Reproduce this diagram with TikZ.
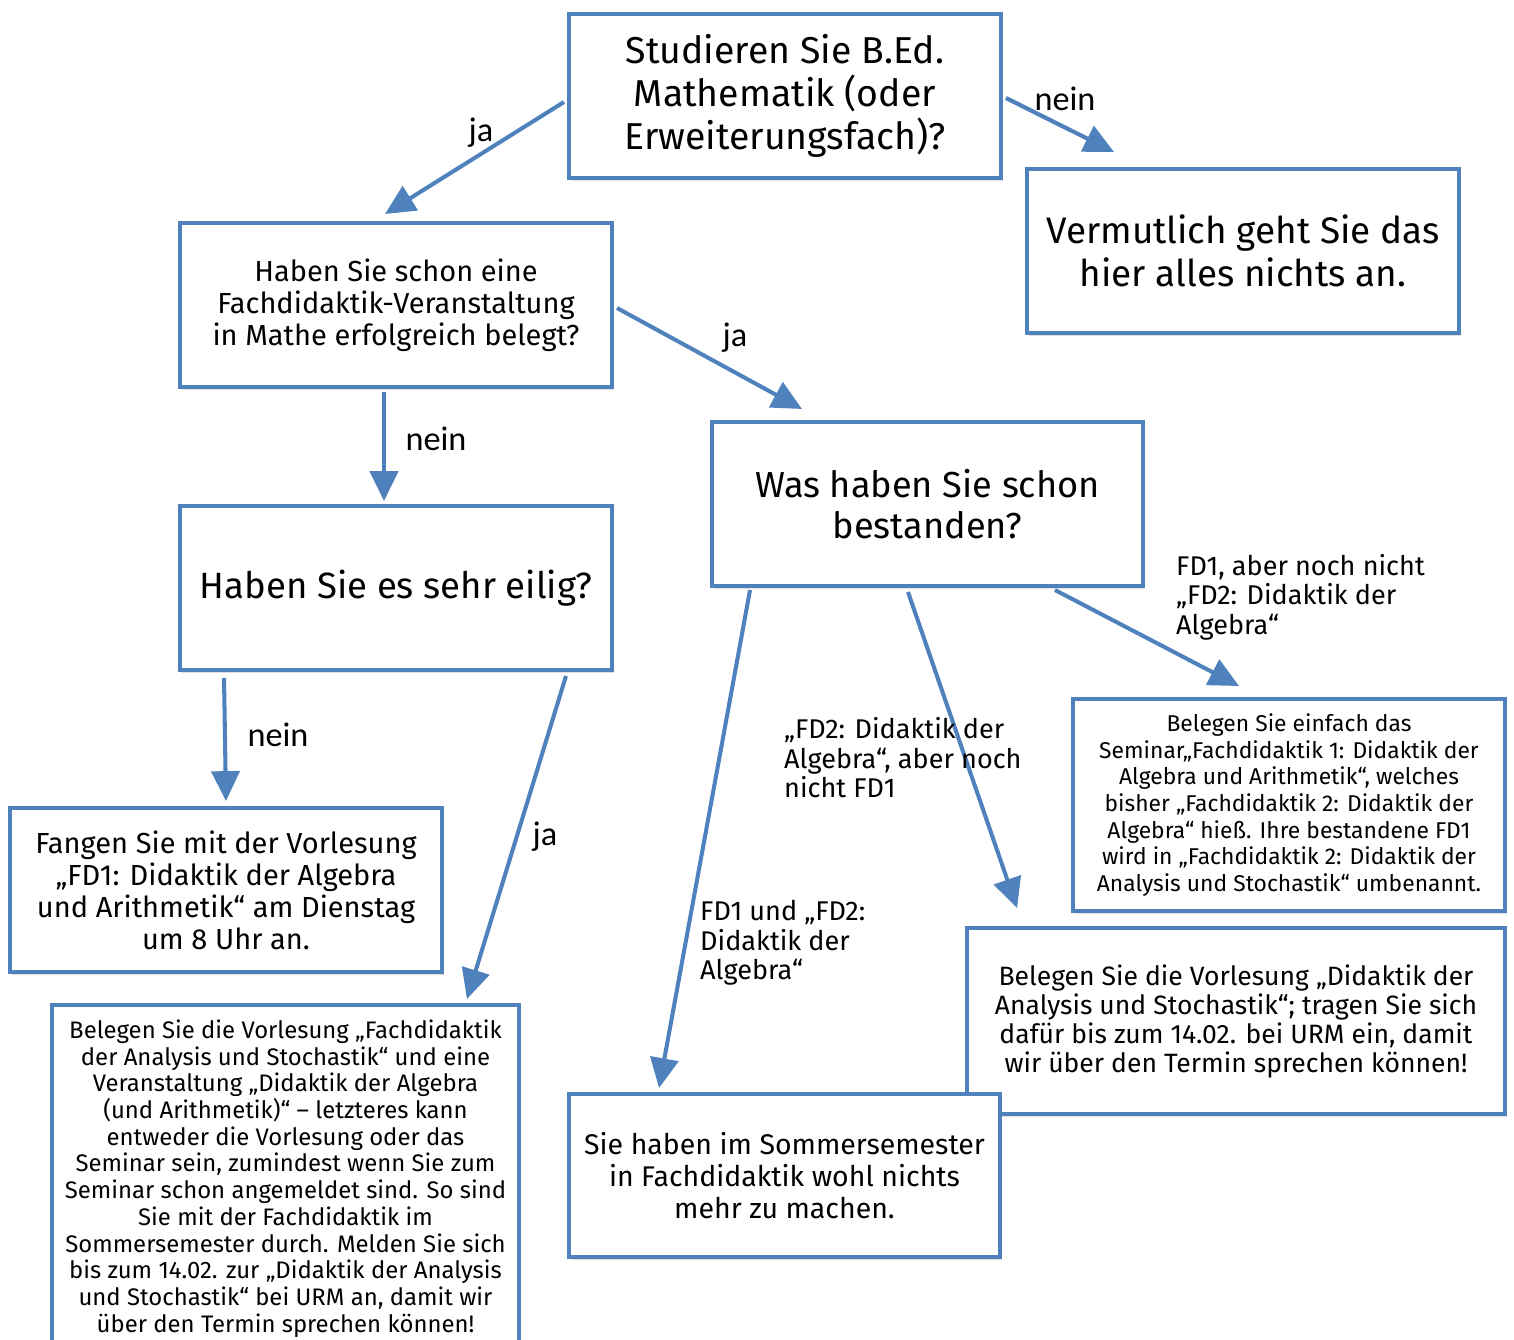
\documentclass[tikz,border=0pt]{standalone}
\usepackage{fontspec}
\setmainfont{Fira Sans}
\newfontfamily\answerfont{Carlito}
\usetikzlibrary{arrows.meta, calc, shadows}
\definecolor{boxblue}{HTML}{4F81BD}

\tikzset{
	box/.style n args={3}{
		draw=boxblue, line width=2.3pt, fill=white, align=center,
		inner sep=0pt, minimum width=#1, minimum height=#2,
		drop shadow={opacity=0.25, shadow xshift=1.2pt, shadow yshift=-1.5pt},
		font=#3
	},
	arr/.style={
		draw=boxblue, line width=2.3pt,
		-{Triangle[length=17pt, width=16pt]}
	},
	answer/.style={anchor=base, font=\answerfont\fontsize{19.5}{23}\selectfont},
	cond/.style={anchor=west, align=left, font=\fontsize{15.4}{16.8}\selectfont}
}

\begin{document}
\begin{tikzpicture}[yscale=-1, x=0.02cm, y=0.02cm]
\useasboundingbox ( 0, 0 ) rectangle ( 1514, 1339 );
\node[box={8.64cm}{3.28cm}{\fontsize{21.3}{24.5}\selectfont}] (b0) at ( 785, 96 ) {Studieren Sie B.Ed.\\ Mathematik (oder\\ Erweiterungsfach)?};
\node[box={8.64cm}{3.28cm}{\fontsize{21}{24.5}\selectfont}] (b1) at ( 1243, 251 ) {Vermutlich geht Sie das\\ hier alles nichts an.};
\node[box={8.64cm}{3.28cm}{\fontsize{16.5}{18.2}\selectfont}] (b2) at ( 396, 305 ) {Haben Sie schon eine\\ Fachdidaktik-Veranstaltung\\ in Mathe erfolgreich belegt?};
\node[box={8.64cm}{3.28cm}{\fontsize{20.8}{24.5}\selectfont}] (b3) at ( 396, 588 ) {Haben Sie es sehr eilig?};
\node[box={8.62cm}{3.28cm}{\fontsize{20.6}{23.5}\selectfont}] (b4) at ( 927.5, 504 ) {Was haben Sie schon\\ bestanden?};
\node[box={8.64cm}{3.28cm}{\fontsize{16.5}{18.2}\selectfont}] (b5) at ( 226, 890 ) {Fangen Sie mit der Vorlesung\\ „FD1: Didaktik der Algebra\\ und Arithmetik“ am Dienstag\\ um 8 Uhr an.};
\node[box={9.34cm}{6.94cm}{\fontsize{13.6}{15.2}\selectfont}] (b6) at ( 285.5, 1178.5 ) {Belegen Sie die Vorlesung „Fachdidaktik\\ der Analysis und Stochastik“ und eine\\ Veranstaltung „Didaktik der Algebra\\ (und Arithmetik)“ -- letzteres kann\\ entweder die Vorlesung oder das\\ Seminar sein, zumindest wenn Sie zum\\ Seminar schon angemeldet sind. So sind\\ Sie mit der Fachdidaktik im\\ Sommersemester durch. Melden Sie sich\\ bis zum 14.02. zur „Didaktik der Analysis\\ und Stochastik“ bei URM an, damit wir\\ über den Termin sprechen können!};
\node[box={8.64cm}{4.24cm}{\fontsize{13}{15.2}\selectfont}] (b7) at ( 1289, 805 ) {Belegen Sie einfach das\\ Seminar„Fachdidaktik 1: Didaktik der\\ Algebra und Arithmetik“, welches\\ bisher „Fachdidaktik 2: Didaktik der\\ Algebra“ hieß. Ihre bestandene FD1\\ wird in „Fachdidaktik 2: Didaktik der\\ Analysis und Stochastik“ umbenannt.};
\node[box={10.76cm}{3.72cm}{\fontsize{15.1}{16.5}\selectfont}] (b8) at ( 1236, 1021 ) {Belegen Sie die Vorlesung „Didaktik der\\ Analysis und Stochastik“; tragen Sie sich\\ dafür bis zum 14.02. bei URM ein, damit\\ wir über den Termin sprechen können!};
\node[box={8.62cm}{3.26cm}{\fontsize{16.2}{18.2}\selectfont}] (b9) at ( 784.5, 1175.5 ) {Sie haben im Sommersemester\\ in Fachdidaktik wohl nichts\\ mehr zu machen.};
% arrows
\draw[arr] ($(b0.west)+(-3,6)$) -- ($(b2.north)+(-11,-7)$);
\draw[arr] ($(b0.east)+(3,2)$) -- ($(b1.north west)+(89,-15)$);
\draw[arr] ($(b2.east)+(3,3)$) -- ($(b4.north west)+(92,-11)$);
\draw[arr] ($(b2.south)+(-12,3)$) -- ($(b3.north)+(-12,-3)$);
\draw[arr] ($(b3.south west)+(46,6)$) -- ($(b5.north)+(0,-5)$);
\draw[arr] ($(b3.south east)+(-48,4)$) -- ($(b6.north east)+(-54,-4)$);
\draw[arr] ($(b4.south east)+(-90,2)$) -- ($(b7.north west)+(168,-11)$);
\draw[arr] ($(b4.south)+(-19.5,4)$) -- ($(b8.north west)+(52,-18)$);
\draw[arr] ($(b4.south west)+(40,2)$) -- ($(b9.north west)+(92,-4)$);
% answers
\node[answer] (l0) at ( 481, 141 ) {ja};
\node[answer] (l1) at ( 1065, 110 ) {nein};
\node[answer] (l2) at ( 735, 346 ) {ja};
\node[answer] (l3) at ( 436, 450 ) {nein};
\node[answer] (l4) at ( 278, 746 ) {nein};
\node[answer] (l5) at ( 545, 845 ) {ja};
\node[cond] (l6) at ( 1170, 597 ) {FD1, aber noch nicht\\ „FD2: Didaktik der\\ Algebra“};
\node[cond] (l7) at ( 778, 758 ) {„FD2: Didaktik der\\ Algebra“, aber noch\\ nicht FD1};
\node[cond] (l8) at ( 694, 943 ) {FD1 und „FD2:\\ Didaktik der\\ Algebra“};
\end{tikzpicture}
\end{document}
